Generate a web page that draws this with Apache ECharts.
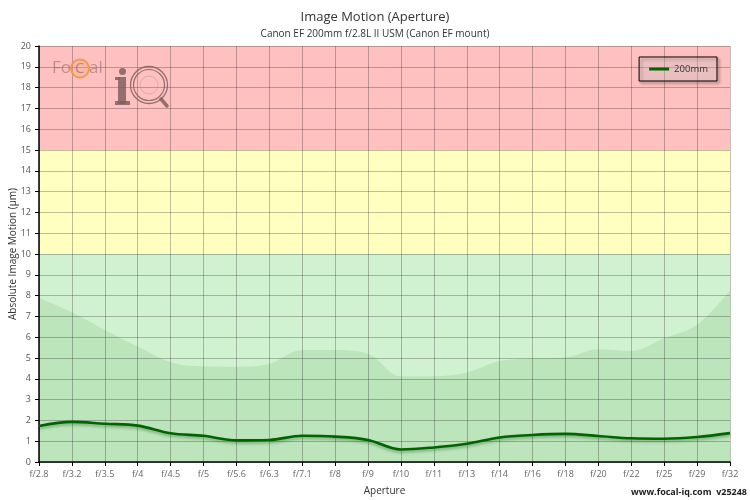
<!DOCTYPE html>
<html>
<head>
<meta charset="utf-8">
<script src="https://cdn.jsdelivr.net/npm/echarts@6/dist/echarts.min.js"></script>
<style>html,body{margin:0;padding:0;background:#fff}#chart{width:750px;height:500px}</style>
</head>
<body>
<div id="chart"></div>
<script>
const categories = ['f/2.8','f/3.2','f/3.5','f/4','f/4.5','f/5','f/5.6','f/6.3','f/7.1','f/8','f/9','f/10','f/11','f/13','f/14','f/16','f/18','f/20','f/22','f/25','f/29','f/32'];
const motion200 = [1.73,1.93,1.84,1.75,1.38,1.26,1.04,1.06,1.26,1.22,1.06,0.60,0.70,0.88,1.18,1.30,1.35,1.25,1.14,1.12,1.20,1.39];
const motionUpper = [7.9,7.2,6.35,5.55,4.8,4.6,4.58,4.72,5.38,5.38,5.2,4.12,4.12,4.3,4.85,4.98,5.03,5.42,5.34,5.95,6.6,8.25];
const yTicks = {min:0, max:20, interval:1};
const bands = [[0,10,'#d0f2d0'],[10,15,'#ffffc0'],[15,20,'#ffc0c0']];

const chart = echarts.init(document.getElementById('chart'));
const font = '"Open Sans", "Noto Sans", sans-serif';
const logoCol = 'rgba(130,95,95,0.85)';
chart.setOption({
  animation:false,
  textStyle:{fontFamily:font},
  title:{
    text:'Image Motion (Aperture)',
    subtext:'Canon EF 200mm f/2.8L II USM (Canon EF mount)',
    left:'center', top:6, itemGap:5,
    textStyle:{fontSize:13,fontWeight:'normal',color:'#333',fontFamily:font},
    subtextStyle:{fontSize:10,color:'#333',fontFamily:font}
  },
  legend:{
    data:['200mm'], right:33, top:57,
    icon:'rect', itemWidth:20, itemHeight:3, itemGap:8,
    padding:[7,9,7,10],
    borderColor:'#000', borderWidth:1,
    backgroundColor:'rgba(255,255,255,0.25)',
    shadowColor:'rgba(0,0,0,0.45)', shadowBlur:3, shadowOffsetX:2, shadowOffsetY:2,
    textStyle:{fontSize:9.5,color:'#333',fontFamily:font}
  },
  grid:{left:39,right:20,top:46,bottom:38,outerBoundsMode:'none',containLabel:false},
  xAxis:{
    type:'category', data:categories, boundaryGap:false, z:3,
    name:'Aperture', nameLocation:'middle', nameGap:24, nameMoveOverlap:false,
    nameTextStyle:{fontSize:10,color:'#333'},
    axisLine:{lineStyle:{color:'#000',width:1.5}},
    axisTick:{show:true,interval:0,length:4,lineStyle:{color:'#000'}},
    axisLabel:{interval:0,fontSize:9,color:'#666',margin:8},
    splitLine:{show:true,interval:0,lineStyle:{color:'rgba(0,0,0,0.25)',width:1}}
  },
  yAxis:{
    type:'value', min:yTicks.min, max:yTicks.max, interval:yTicks.interval, z:3,
    name:'Absolute Image Motion (µm)', nameLocation:'middle', nameGap:21, nameRotate:90, nameMoveOverlap:false,
    nameTextStyle:{fontSize:10,color:'#333'},
    axisLine:{show:true,lineStyle:{color:'#000',width:1.5}},
    axisTick:{show:true,length:4,lineStyle:{color:'#000'}},
    axisLabel:{fontSize:9,color:'#555',margin:8},
    splitLine:{show:true,lineStyle:{color:'rgba(0,0,0,0.25)',width:1}}
  },
  series:[
    {
      name:'bands', type:'line', data:[], z:1, silent:true,
      markArea:{silent:true, data: bands.map(b=>[{yAxis:b[0],itemStyle:{color:b[2]}},{yAxis:b[1]}])}
    },
    {
      name:'upper', type:'line', data:motionUpper, smooth:0.35, z:2, silent:true,
      symbol:'none', lineStyle:{width:0},
      areaStyle:{color:'#bde5bb',opacity:1}
    },
    {
      name:'200mm', type:'line', data:motion200, smooth:0.35, z:5,
      symbol:'none', color:'#006400',
      lineStyle:{color:'#006400',width:2.6,shadowColor:'rgba(0,60,0,0.35)',shadowBlur:3,shadowOffsetY:2}
    }
  ],
  graphic:[
    {type:'text', left:52, top:60, z:10, style:{text:'Fo', fontSize:17, fontFamily:font, fill:'rgba(150,110,110,0.6)'}},
    {type:'circle', shape:{cx:80, cy:68.5, r:9}, z:10, style:{fill:'rgba(240,170,120,0.3)', stroke:'rgba(240,150,70,0.9)', lineWidth:2}},
    {type:'text', left:75, top:61, z:10, style:{text:'C', fontSize:15, fontFamily:font, fill:'rgba(150,110,110,0.7)'}},
    {type:'text', left:89, top:60, z:10, style:{text:'al', fontSize:17, fontFamily:font, fill:'rgba(150,110,110,0.6)'}},
    {type:'circle', shape:{cx:122.5, cy:71.5, r:3.5}, z:10, style:{fill:logoCol}},
    {type:'rect', shape:{x:118, y:77, width:8, height:27}, z:10, style:{fill:logoCol}},
    {type:'rect', shape:{x:115, y:77, width:5, height:3}, z:10, style:{fill:logoCol}},
    {type:'rect', shape:{x:115, y:101, width:15, height:4}, z:10, style:{fill:logoCol}},
    {type:'circle', shape:{cx:149, cy:85, r:18.5}, z:10, style:{fill:'none', stroke:logoCol, lineWidth:1.3}},
    {type:'circle', shape:{cx:149, cy:85, r:15.5}, z:10, style:{fill:'none', stroke:logoCol, lineWidth:1.2}},
    {type:'circle', shape:{cx:149, cy:85, r:9}, z:10, style:{fill:'none', stroke:'rgba(170,130,130,0.35)', lineWidth:1}},
    {type:'line', shape:{x1:161, y1:99, x2:167, y2:106}, z:10, style:{stroke:logoCol, lineWidth:3.5, lineCap:'round'}},
    {type:'text', right:3, bottom:3, z:10, style:{text:'www.focal-iq.com  v25248', fontSize:9, fontWeight:'bold', fontFamily:font, fill:'#222'}}
  ]
});
</script>
</body>
</html>
